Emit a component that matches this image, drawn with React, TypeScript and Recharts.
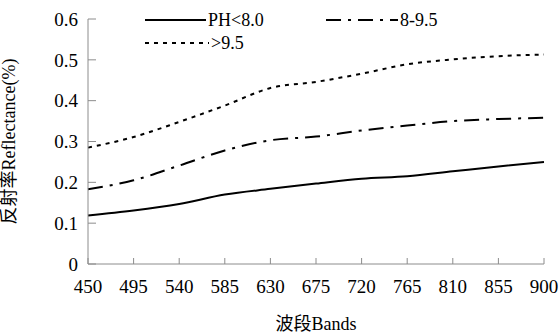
import React from 'react'
import {LineChart, Line, XAxis, YAxis, Legend} from 'recharts'

// 波段 (nm)
const bands = [450, 495, 540, 585, 630, 675, 720, 765, 810, 855, 900]
// 反射率 for the three pH groups
const phLow = [0.119, 0.131, 0.147, 0.17, 0.184, 0.197, 0.209, 0.215, 0.227, 0.239, 0.25]
const phMid = [0.183, 0.205, 0.241, 0.278, 0.303, 0.312, 0.327, 0.339, 0.35, 0.355, 0.358]
const phHigh = [0.285, 0.311, 0.348, 0.388, 0.431, 0.446, 0.466, 0.489, 0.501, 0.509, 0.513]

const seriesNames = ['PH<8.0', '8-9.5', '>9.5']
const xTicks = [450, 495, 540, 585, 630, 675, 720, 765, 810, 855, 900]
const yTicks = [0, 0.1, 0.2, 0.3, 0.4, 0.5, 0.6]

const data = bands.map((b, i) => ({band: b, low: phLow[i], mid: phMid[i], high: phHigh[i]}))

const FONT = '"Liberation Serif", "Noto Sans CJK SC", serif'
const AXIS = '#8c8c8c'

const dashes: Record<string, string | undefined> = {
  'PH<8.0': undefined,
  '8-9.5': '15 7 3 7',
  '>9.5': '4 5'
}
const sampleW: Record<string, number> = {'PH<8.0': 61, '8-9.5': 72, '>9.5': 64}

// keep legend in series order (recharts sorts by name otherwise)
const renderLegend = (props: any) => {
  const items = [...(props.payload || [])].sort(
    (a: any, b: any) => seriesNames.indexOf(a.value) - seriesNames.indexOf(b.value)
  )
  return (
    <div
      style={{
        display: 'grid',
        gridTemplateColumns: '181px 160px',
        rowGap: 3,
        fontFamily: FONT,
        fontSize: 18,
        color: '#000'
      }}
    >
      {items.map((it: any) => (
        <div key={it.value} style={{display: 'flex', alignItems: 'center', height: 20, fontFamily: FONT}}>
          <svg width={sampleW[it.value]} height={6} style={{marginRight: 2}}>
            <line x1={0} y1={3} x2={sampleW[it.value]} y2={3} stroke='#000' strokeWidth={2} strokeDasharray={dashes[it.value]} />
          </svg>
          <span style={{fontFamily: FONT}}>{it.value}</span>
        </div>
      ))}
    </div>
  )
}

export default function App() {
  return (
    <div style={{position: 'absolute', left: 0, top: 0, background: '#fff', fontFamily: FONT}}>
      <LineChart
        width={559}
        height={333}
        data={data}
        margin={{top: 19, right: 15, bottom: 0, left: 0}}
        style={{fontFamily: FONT}}
      >
        <XAxis
          dataKey='band'
          type='number'
          domain={[450, 900]}
          ticks={xTicks}
          interval={0}
          height={69}
          stroke={AXIS}
          tickSize={-6}
          tickMargin={22}
          tick={{fill: '#000', fontSize: 19, fontFamily: FONT, style: {fontFamily: FONT}}}
          label={{
            value: '波段Bands',
            position: 'insideBottom',
            offset: 3,
            fill: '#000',
            fontSize: 18,
            fontFamily: FONT,
            style: {fontFamily: FONT}
          }}
        />
        <YAxis
          type='number'
          domain={[0, 0.6]}
          ticks={yTicks}
          interval={0}
          width={88}
          stroke={AXIS}
          tickSize={-8}
          tickMargin={18}
          tick={{fill: '#000', fontSize: 19, fontFamily: FONT, style: {fontFamily: FONT}}}
          label={{
            value: '反射率Reflectance(%)',
            angle: -90,
            position: 'insideLeft',
            offset: 9,
            fill: '#000',
            fontSize: 18,
            fontFamily: FONT,
            style: {textAnchor: 'middle', fontFamily: FONT}
          }}
        />
        <Legend
          layout='horizontal'
          verticalAlign='middle'
          align='center'
          content={renderLegend}
          wrapperStyle={{position: 'absolute', left: 145, top: 10, width: 360}}
        />
        <Line type='monotone' dataKey='low' name={seriesNames[0]} stroke='#000' strokeWidth={2} dot={false} isAnimationActive={false} />
        <Line type='monotone' dataKey='mid' name={seriesNames[1]} stroke='#000' strokeWidth={2} strokeDasharray='15 7 3 7' dot={false} isAnimationActive={false} />
        <Line type='monotone' dataKey='high' name={seriesNames[2]} stroke='#000' strokeWidth={2} strokeDasharray='4 5' dot={false} isAnimationActive={false} />
      </LineChart>
    </div>
  )
}
